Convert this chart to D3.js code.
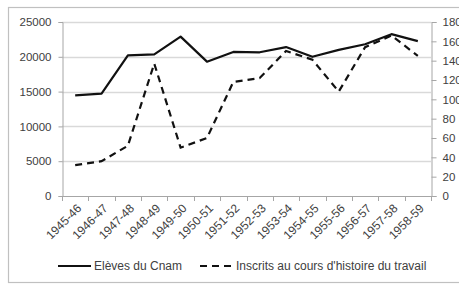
<!DOCTYPE html>
<html>
<head>
<meta charset="utf-8">
<script src="https://cdn.jsdelivr.net/npm/d3@7"></script>
<style>
  html, body { margin: 0; padding: 0; background: #fff; }
  svg { display: block; }
</style>
</head>
<body>
<script>
// chart data
const years = ['1945-46', '1946-47', '1947-48', '1948-49', '1949-50', '1950-51', '1951-52',
  '1952-53', '1953-54', '1954-55', '1955-56', '1956-57', '1957-58', '1958-59'];
const eleves = [14450, 14700, 20200, 20350, 22900, 19300, 20700,
  20650, 21400, 20000, 21000, 21800, 23250, 22250];
const inscrits = [32, 36, 52, 137, 50, 60, 118, 122, 150, 141, 108, 154, 166, 145];
const leftTicks = [0, 5000, 10000, 15000, 20000, 25000];
const rightTicks = [0, 20, 40, 60, 80, 100, 120, 140, 160, 180];
const seriesNames = ['Elèves du Cnam', "Inscrits au cours d'histoire du travail"];

const width = 459;
const height = 284;
const margin = { top: 22, right: 28, bottom: 88, left: 62 };
const font = '"Liberation Sans", Arial, sans-serif';
const textColor = '#404040';

const svg = d3.select('body').append('svg')
  .attr('width', width)
  .attr('height', height);

svg.append('rect')
  .attr('width', width).attr('height', height)
  .attr('fill', '#fff');

// outer chart frame
svg.append('rect')
  .attr('x', 8.5).attr('y', 7.5)
  .attr('width', width)
  .attr('height', 275)
  .attr('fill', 'none')
  .attr('stroke', '#c0c0c0')
  .attr('stroke-width', 1.2);

const x0 = margin.left, x1 = width - margin.right;
const y0 = height - margin.bottom, y1 = margin.top;

const xScale = d3.scaleBand().domain(years).range([x0, x1]);
const cx = d => xScale(d) + xScale.bandwidth() / 2;
const yLeft = d3.scaleLinear().domain([0, 25000]).range([y0, y1]);
const yRight = d3.scaleLinear().domain([0, 180]).range([y0, y1]);

// gridlines
svg.append('g')
  .selectAll('line')
  .data(leftTicks.filter(d => d > 0))
  .join('line')
  .attr('x1', x0).attr('x2', x1)
  .attr('y1', d => Math.round(yLeft(d)) + 0.5)
  .attr('y2', d => Math.round(yLeft(d)) + 0.5)
  .attr('stroke', '#d9d9d9')
  .attr('stroke-width', 1.3);

// left axis
const gLeft = svg.append('g')
  .attr('transform', `translate(${x0 + 0.5},0)`)
  .call(d3.axisLeft(yLeft).tickValues(leftTicks).tickSize(4).tickPadding(7).tickFormat(d3.format('d')));

// right axis (labels run off the right edge, as in the original)
const gRight = svg.append('g')
  .attr('transform', `translate(${x1 + 0.5},0)`)
  .call(d3.axisRight(yRight).tickValues(rightTicks).tickSize(5).tickPadding(6));

[gLeft, gRight].forEach(g => {
  g.select('.domain').attr('stroke', '#a6a6a6');
  g.selectAll('.tick line').attr('stroke', '#a6a6a6');
  g.selectAll('text')
    .attr('fill', textColor)
    .style('font-family', font)
    .style('font-size', '11.5px');
});

// x axis line and boundary ticks
svg.append('line')
  .attr('x1', x0).attr('x2', x1)
  .attr('y1', y0 + 0.5).attr('y2', y0 + 0.5)
  .attr('stroke', '#a6a6a6');

const step = xScale.step();
svg.append('g')
  .selectAll('line')
  .data(d3.range(years.length + 1))
  .join('line')
  .attr('x1', i => Math.round(x0 + i * step) + 0.5)
  .attr('x2', i => Math.round(x0 + i * step) + 0.5)
  .attr('y1', y0)
  .attr('y2', y0 + 5)
  .attr('stroke', '#a6a6a6');

// rotated x labels
svg.append('g')
  .selectAll('text')
  .data(years)
  .join('text')
  .attr('transform', d => `translate(${cx(d) + 4},${y0 + 10}) rotate(-45)`)
  .attr('text-anchor', 'end')
  .attr('dy', '0.35em')
  .attr('fill', textColor)
  .style('font-family', font)
  .style('font-size', '12px')
  .text(d => d);

// series lines
const lineLeft = d3.line()
  .x((d, i) => cx(years[i]))
  .y(d => yLeft(d));
const lineRight = d3.line()
  .x((d, i) => cx(years[i]))
  .y(d => yRight(d));

svg.append('path')
  .datum(inscrits)
  .attr('fill', 'none')
  .attr('stroke', '#111')
  .attr('stroke-width', 2.2)
  .attr('stroke-dasharray', '7,5')
  .attr('d', lineRight);

svg.append('path')
  .datum(eleves)
  .attr('fill', 'none')
  .attr('stroke', '#111')
  .attr('stroke-width', 2.2)
  .attr('stroke-linejoin', 'round')
  .attr('d', lineLeft);

// legend
const legendY = 266;
const legend = [
  { name: seriesNames[0], x: 58, dash: null },
  { name: seriesNames[1], x: 200, dash: '7,5' }
];
legend.forEach(l => {
  svg.append('line')
    .attr('x1', l.x).attr('x2', l.x + 33)
    .attr('y1', legendY).attr('y2', legendY)
    .attr('stroke', '#111')
    .attr('stroke-width', 2.2)
    .attr('stroke-dasharray', l.dash);
  svg.append('text')
    .attr('x', l.x + 36)
    .attr('y', legendY)
    .attr('dy', '0.35em')
    .attr('fill', textColor)
    .style('font-family', font)
    .style('font-size', '12px')
    .text(l.name);
});
</script>
</body>
</html>
